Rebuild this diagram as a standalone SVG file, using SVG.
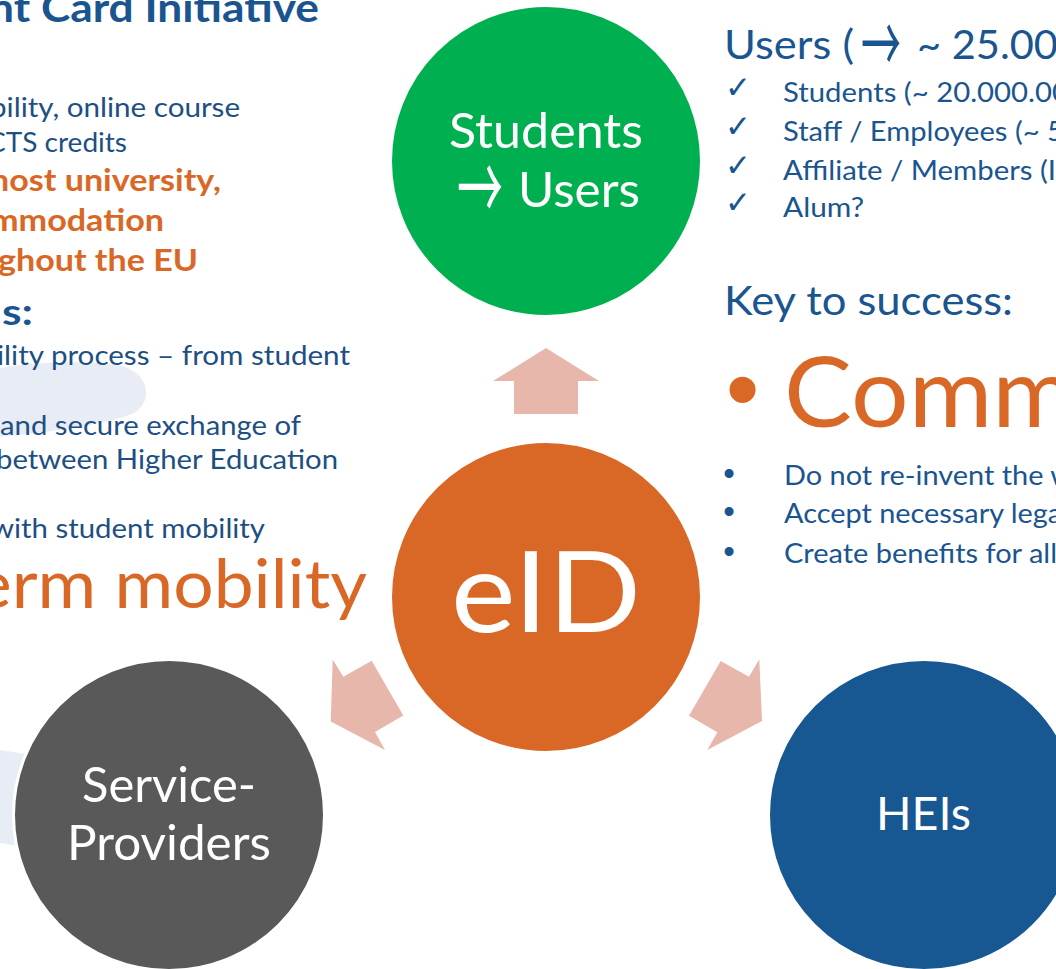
<svg xmlns="http://www.w3.org/2000/svg" width="1056" height="969" viewBox="0 0 1056 969">
<style>
text{font-family:"Lato","Open Sans","Noto Sans",sans-serif;font-size:27px;fill:#1a5590}
text.k{fill:#1d4f84}
text.o{fill:#d96827}
text.w{fill:#fff}
text.bd{font-weight:700}
text.t{font-size:41px}
text.n{font-size:49px}
text.x{font-size:31px}
text.sym{font-family:"DejaVu Sans",sans-serif}
text.arw{font-family:"Noto Sans CJK JP",sans-serif}
text.li{font-family:"Liberation Sans",sans-serif;font-size:33px}
.c{stroke:#fff;stroke-width:3}
.ar{fill:#e8b7ab}
</style>
<rect width="1056" height="969" fill="#fff"/>
<g id="background">
<path d="M0 368C40 361 105 360 128 368C150 378 152 402 134 413C110 424 50 432 0 437Z" fill="#e8edf5"/>
<path d="M0 750L26 754L17 846L0 843Z" fill="#e8edf5"/>
</g>
<g id="left-text">
<text class="bd" x="-11" y="22" style="font-size:40px" textLength="330" lengthAdjust="spacingAndGlyphs">nt Card Initiative</text>
<text class="k" x="-10" y="117" textLength="250" lengthAdjust="spacingAndGlyphs">bility, online course</text>
<text class="k" x="-13" y="152" textLength="140" lengthAdjust="spacingAndGlyphs">CTS credits</text>
<text class="o bd" x="-10" y="191" style="font-size:31px" textLength="231" lengthAdjust="spacingAndGlyphs">host university,</text>
<text class="o bd" x="-10" y="231" style="font-size:31px" textLength="174" lengthAdjust="spacingAndGlyphs">mmodation</text>
<text class="o bd" x="-2" y="271" style="font-size:31px" textLength="200" lengthAdjust="spacingAndGlyphs">ghout the EU</text>
<text class="bd" x="2" y="325" style="font-size:36px" textLength="31" lengthAdjust="spacingAndGlyphs">s:</text>
<text class="k" x="-3" y="365" textLength="353" lengthAdjust="spacingAndGlyphs">ility process – from student</text>
<text class="k" x="0" y="435" textLength="301" lengthAdjust="spacingAndGlyphs">and secure exchange of</text>
<text class="k" x="-4" y="469" textLength="342" lengthAdjust="spacingAndGlyphs">between Higher Education</text>
<text class="k" x="-9" y="538" textLength="274" lengthAdjust="spacingAndGlyphs">with student mobility</text>
<text class="o" x="-26" y="608" style="font-size:68px" textLength="393" lengthAdjust="spacingAndGlyphs">erm mobility</text>
</g>
<g id="right-text">
<text class="t" x="724" y="59" textLength="130" lengthAdjust="spacingAndGlyphs">Users (</text>
<text class="arw" transform="translate(861,73) scale(1,2)" style="font-size:40px">→</text>
<text class="t" x="917" y="59" textLength="165" lengthAdjust="spacingAndGlyphs">~ 25.000</text>
<text class="sym x" x="725" y="98">✓</text><text x="783" y="102" textLength="303" lengthAdjust="spacingAndGlyphs">Students (~ 20.000.000</text>
<text class="sym x" x="725" y="137">✓</text><text x="783" y="141" textLength="281" lengthAdjust="spacingAndGlyphs">Staff / Employees (~ 5</text>
<text class="sym x" x="725" y="176">✓</text><text x="783" y="180" textLength="273" lengthAdjust="spacingAndGlyphs">Affiliate / Members (I</text>
<text class="sym x" x="725" y="213">✓</text><text x="783" y="217" textLength="81" lengthAdjust="spacingAndGlyphs">Alum?</text>
<text class="t" x="724" y="315" textLength="289" lengthAdjust="spacingAndGlyphs">Key to success:</text>
<text class="li o" x="725.7" y="422" style="font-size:96px">•</text>
<text class="o" x="784" y="427" style="font-size:96px" textLength="292" lengthAdjust="spacingAndGlyphs">Comm</text>
<text class="li" x="723.2" y="485">•</text><text x="784" y="485" textLength="289" lengthAdjust="spacingAndGlyphs">Do not re-invent the w</text>
<text class="li" x="723.2" y="523">•</text><text x="784" y="523" textLength="285" lengthAdjust="spacingAndGlyphs">Accept necessary legal</text>
<text class="li" x="723.2" y="563">•</text><text x="784" y="563" textLength="273" lengthAdjust="spacingAndGlyphs">Create benefits for all</text>
</g>
<g id="connectors">
<polygon class="ar" points="546,348 599,381 578,381 578,414 514,414 514,381 493,381"/>
<polygon class="ar" points="332.7,659.6 343.3,676.8 371.7,660.7 403.3,715.4 375,732 385,750 330.7,721.4"/>
<polygon class="ar" points="759.3,659.3 749,676.7 720.7,661 689,715.7 717.3,732.3 707.3,750 762,721"/>
</g>
<g id="node-students">
<circle class="c" cx="546" cy="161" r="155.5" fill="#00b050"/>
<text class="w n" x="449" y="148" textLength="194" lengthAdjust="spacingAndGlyphs">Students</text>
<text class="w arw" transform="translate(457,222) scale(1,2)" style="font-size:46px">→</text>
<text class="w n" x="518" y="207" textLength="122" lengthAdjust="spacingAndGlyphs">Users</text>
</g>
<g id="node-eid">
<circle class="c" cx="546" cy="597" r="155.5" fill="#d96827"/>
<text class="w" x="451" y="632" style="font-size:112px" textLength="190" lengthAdjust="spacingAndGlyphs">eID</text>
</g>
<g id="node-service-providers">
<circle class="c" cx="169" cy="815" r="155.5" fill="#595959"/>
<text class="w n" x="82" y="802" textLength="174" lengthAdjust="spacingAndGlyphs">Service-</text>
<text class="w n" x="67" y="860" textLength="204" lengthAdjust="spacingAndGlyphs">Providers</text>
</g>
<g id="node-heis">
<circle class="c" cx="924" cy="815" r="155.5" fill="#175792"/>
<text class="w" x="876" y="830" style="font-size:46px" textLength="95" lengthAdjust="spacingAndGlyphs">HEIs</text>
</g>
</svg>
